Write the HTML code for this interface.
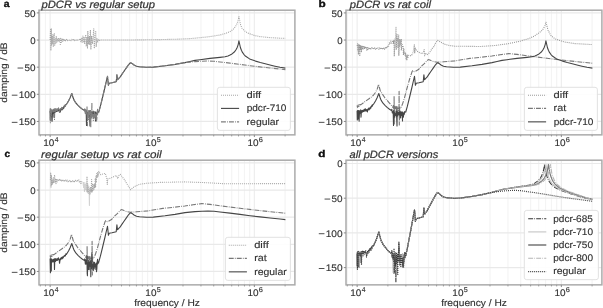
<!DOCTYPE html>
<html><head><meta charset="utf-8"><style>
html,body{margin:0;padding:0;background:#fff;width:603px;height:308px;overflow:hidden}

svg text{stroke:#333;stroke-width:0.14px}
svg{display:block;will-change:transform;text-rendering:geometricPrecision;font-family:"Liberation Sans",sans-serif}
</style></head><body>
<svg xmlns="http://www.w3.org/2000/svg" width="603" height="308" viewBox="0 0 603 308" font-family="Liberation Sans, sans-serif" fill="#333">
<rect width="603" height="308" fill="#fff"/>
<defs>
<clipPath id="cla"><rect x="39.0" y="10.2" width="255.9" height="124.65"/></clipPath>
<clipPath id="clb"><rect x="346.0" y="10.2" width="255.9" height="124.65"/></clipPath>
<clipPath id="clc"><rect x="39.0" y="160.2" width="255.9" height="124.65"/></clipPath>
<clipPath id="cld"><rect x="346.0" y="160.2" width="255.9" height="124.65"/></clipPath>
</defs>
<line x1="40.26" y1="10.2" x2="40.26" y2="134.85" stroke="#f4f4f4" stroke-width="1.2"/>
<line x1="45.48" y1="10.2" x2="45.48" y2="134.85" stroke="#f4f4f4" stroke-width="1.2"/>
<line x1="50.15" y1="10.2" x2="50.15" y2="134.85" stroke="#eeeeee" stroke-width="1.2"/>
<line x1="80.89" y1="10.2" x2="80.89" y2="134.85" stroke="#f4f4f4" stroke-width="1.2"/>
<line x1="98.86" y1="10.2" x2="98.86" y2="134.85" stroke="#f4f4f4" stroke-width="1.2"/>
<line x1="111.62" y1="10.2" x2="111.62" y2="134.85" stroke="#f4f4f4" stroke-width="1.2"/>
<line x1="121.51" y1="10.2" x2="121.51" y2="134.85" stroke="#f4f4f4" stroke-width="1.2"/>
<line x1="129.6" y1="10.2" x2="129.6" y2="134.85" stroke="#f4f4f4" stroke-width="1.2"/>
<line x1="136.43" y1="10.2" x2="136.43" y2="134.85" stroke="#f4f4f4" stroke-width="1.2"/>
<line x1="142.36" y1="10.2" x2="142.36" y2="134.85" stroke="#f4f4f4" stroke-width="1.2"/>
<line x1="147.58" y1="10.2" x2="147.58" y2="134.85" stroke="#f4f4f4" stroke-width="1.2"/>
<line x1="152.25" y1="10.2" x2="152.25" y2="134.85" stroke="#eeeeee" stroke-width="1.2"/>
<line x1="182.99" y1="10.2" x2="182.99" y2="134.85" stroke="#f4f4f4" stroke-width="1.2"/>
<line x1="200.96" y1="10.2" x2="200.96" y2="134.85" stroke="#f4f4f4" stroke-width="1.2"/>
<line x1="213.72" y1="10.2" x2="213.72" y2="134.85" stroke="#f4f4f4" stroke-width="1.2"/>
<line x1="223.61" y1="10.2" x2="223.61" y2="134.85" stroke="#f4f4f4" stroke-width="1.2"/>
<line x1="231.7" y1="10.2" x2="231.7" y2="134.85" stroke="#f4f4f4" stroke-width="1.2"/>
<line x1="238.53" y1="10.2" x2="238.53" y2="134.85" stroke="#f4f4f4" stroke-width="1.2"/>
<line x1="244.46" y1="10.2" x2="244.46" y2="134.85" stroke="#f4f4f4" stroke-width="1.2"/>
<line x1="249.68" y1="10.2" x2="249.68" y2="134.85" stroke="#f4f4f4" stroke-width="1.2"/>
<line x1="254.35" y1="10.2" x2="254.35" y2="134.85" stroke="#eeeeee" stroke-width="1.2"/>
<line x1="285.09" y1="10.2" x2="285.09" y2="134.85" stroke="#f4f4f4" stroke-width="1.2"/>
<line x1="39.0" y1="12.91" x2="294.9" y2="12.91" stroke="#e9e9e9" stroke-width="1.2"/>
<line x1="39.0" y1="40.04" x2="294.9" y2="40.04" stroke="#e9e9e9" stroke-width="1.2"/>
<line x1="39.0" y1="67.17" x2="294.9" y2="67.17" stroke="#e9e9e9" stroke-width="1.2"/>
<line x1="39.0" y1="94.31" x2="294.9" y2="94.31" stroke="#e9e9e9" stroke-width="1.2"/>
<line x1="39.0" y1="121.44" x2="294.9" y2="121.44" stroke="#e9e9e9" stroke-width="1.2"/>
<line x1="347.26" y1="10.2" x2="347.26" y2="134.85" stroke="#f4f4f4" stroke-width="1.2"/>
<line x1="352.48" y1="10.2" x2="352.48" y2="134.85" stroke="#f4f4f4" stroke-width="1.2"/>
<line x1="357.15" y1="10.2" x2="357.15" y2="134.85" stroke="#eeeeee" stroke-width="1.2"/>
<line x1="387.89" y1="10.2" x2="387.89" y2="134.85" stroke="#f4f4f4" stroke-width="1.2"/>
<line x1="405.86" y1="10.2" x2="405.86" y2="134.85" stroke="#f4f4f4" stroke-width="1.2"/>
<line x1="418.62" y1="10.2" x2="418.62" y2="134.85" stroke="#f4f4f4" stroke-width="1.2"/>
<line x1="428.51" y1="10.2" x2="428.51" y2="134.85" stroke="#f4f4f4" stroke-width="1.2"/>
<line x1="436.6" y1="10.2" x2="436.6" y2="134.85" stroke="#f4f4f4" stroke-width="1.2"/>
<line x1="443.43" y1="10.2" x2="443.43" y2="134.85" stroke="#f4f4f4" stroke-width="1.2"/>
<line x1="449.36" y1="10.2" x2="449.36" y2="134.85" stroke="#f4f4f4" stroke-width="1.2"/>
<line x1="454.58" y1="10.2" x2="454.58" y2="134.85" stroke="#f4f4f4" stroke-width="1.2"/>
<line x1="459.25" y1="10.2" x2="459.25" y2="134.85" stroke="#eeeeee" stroke-width="1.2"/>
<line x1="489.99" y1="10.2" x2="489.99" y2="134.85" stroke="#f4f4f4" stroke-width="1.2"/>
<line x1="507.96" y1="10.2" x2="507.96" y2="134.85" stroke="#f4f4f4" stroke-width="1.2"/>
<line x1="520.72" y1="10.2" x2="520.72" y2="134.85" stroke="#f4f4f4" stroke-width="1.2"/>
<line x1="530.61" y1="10.2" x2="530.61" y2="134.85" stroke="#f4f4f4" stroke-width="1.2"/>
<line x1="538.7" y1="10.2" x2="538.7" y2="134.85" stroke="#f4f4f4" stroke-width="1.2"/>
<line x1="545.53" y1="10.2" x2="545.53" y2="134.85" stroke="#f4f4f4" stroke-width="1.2"/>
<line x1="551.46" y1="10.2" x2="551.46" y2="134.85" stroke="#f4f4f4" stroke-width="1.2"/>
<line x1="556.68" y1="10.2" x2="556.68" y2="134.85" stroke="#f4f4f4" stroke-width="1.2"/>
<line x1="561.35" y1="10.2" x2="561.35" y2="134.85" stroke="#eeeeee" stroke-width="1.2"/>
<line x1="592.09" y1="10.2" x2="592.09" y2="134.85" stroke="#f4f4f4" stroke-width="1.2"/>
<line x1="346.0" y1="12.91" x2="601.9" y2="12.91" stroke="#e9e9e9" stroke-width="1.2"/>
<line x1="346.0" y1="40.04" x2="601.9" y2="40.04" stroke="#e9e9e9" stroke-width="1.2"/>
<line x1="346.0" y1="67.17" x2="601.9" y2="67.17" stroke="#e9e9e9" stroke-width="1.2"/>
<line x1="346.0" y1="94.31" x2="601.9" y2="94.31" stroke="#e9e9e9" stroke-width="1.2"/>
<line x1="346.0" y1="121.44" x2="601.9" y2="121.44" stroke="#e9e9e9" stroke-width="1.2"/>
<line x1="40.26" y1="160.2" x2="40.26" y2="284.85" stroke="#f4f4f4" stroke-width="1.2"/>
<line x1="45.48" y1="160.2" x2="45.48" y2="284.85" stroke="#f4f4f4" stroke-width="1.2"/>
<line x1="50.15" y1="160.2" x2="50.15" y2="284.85" stroke="#eeeeee" stroke-width="1.2"/>
<line x1="80.89" y1="160.2" x2="80.89" y2="284.85" stroke="#f4f4f4" stroke-width="1.2"/>
<line x1="98.86" y1="160.2" x2="98.86" y2="284.85" stroke="#f4f4f4" stroke-width="1.2"/>
<line x1="111.62" y1="160.2" x2="111.62" y2="284.85" stroke="#f4f4f4" stroke-width="1.2"/>
<line x1="121.51" y1="160.2" x2="121.51" y2="284.85" stroke="#f4f4f4" stroke-width="1.2"/>
<line x1="129.6" y1="160.2" x2="129.6" y2="284.85" stroke="#f4f4f4" stroke-width="1.2"/>
<line x1="136.43" y1="160.2" x2="136.43" y2="284.85" stroke="#f4f4f4" stroke-width="1.2"/>
<line x1="142.36" y1="160.2" x2="142.36" y2="284.85" stroke="#f4f4f4" stroke-width="1.2"/>
<line x1="147.58" y1="160.2" x2="147.58" y2="284.85" stroke="#f4f4f4" stroke-width="1.2"/>
<line x1="152.25" y1="160.2" x2="152.25" y2="284.85" stroke="#eeeeee" stroke-width="1.2"/>
<line x1="182.99" y1="160.2" x2="182.99" y2="284.85" stroke="#f4f4f4" stroke-width="1.2"/>
<line x1="200.96" y1="160.2" x2="200.96" y2="284.85" stroke="#f4f4f4" stroke-width="1.2"/>
<line x1="213.72" y1="160.2" x2="213.72" y2="284.85" stroke="#f4f4f4" stroke-width="1.2"/>
<line x1="223.61" y1="160.2" x2="223.61" y2="284.85" stroke="#f4f4f4" stroke-width="1.2"/>
<line x1="231.7" y1="160.2" x2="231.7" y2="284.85" stroke="#f4f4f4" stroke-width="1.2"/>
<line x1="238.53" y1="160.2" x2="238.53" y2="284.85" stroke="#f4f4f4" stroke-width="1.2"/>
<line x1="244.46" y1="160.2" x2="244.46" y2="284.85" stroke="#f4f4f4" stroke-width="1.2"/>
<line x1="249.68" y1="160.2" x2="249.68" y2="284.85" stroke="#f4f4f4" stroke-width="1.2"/>
<line x1="254.35" y1="160.2" x2="254.35" y2="284.85" stroke="#eeeeee" stroke-width="1.2"/>
<line x1="285.09" y1="160.2" x2="285.09" y2="284.85" stroke="#f4f4f4" stroke-width="1.2"/>
<line x1="39.0" y1="162.91" x2="294.9" y2="162.91" stroke="#e9e9e9" stroke-width="1.2"/>
<line x1="39.0" y1="190.04" x2="294.9" y2="190.04" stroke="#e9e9e9" stroke-width="1.2"/>
<line x1="39.0" y1="217.17" x2="294.9" y2="217.17" stroke="#e9e9e9" stroke-width="1.2"/>
<line x1="39.0" y1="244.31" x2="294.9" y2="244.31" stroke="#e9e9e9" stroke-width="1.2"/>
<line x1="39.0" y1="271.44" x2="294.9" y2="271.44" stroke="#e9e9e9" stroke-width="1.2"/>
<line x1="347.26" y1="160.2" x2="347.26" y2="284.85" stroke="#f4f4f4" stroke-width="1.2"/>
<line x1="352.48" y1="160.2" x2="352.48" y2="284.85" stroke="#f4f4f4" stroke-width="1.2"/>
<line x1="357.15" y1="160.2" x2="357.15" y2="284.85" stroke="#eeeeee" stroke-width="1.2"/>
<line x1="387.89" y1="160.2" x2="387.89" y2="284.85" stroke="#f4f4f4" stroke-width="1.2"/>
<line x1="405.86" y1="160.2" x2="405.86" y2="284.85" stroke="#f4f4f4" stroke-width="1.2"/>
<line x1="418.62" y1="160.2" x2="418.62" y2="284.85" stroke="#f4f4f4" stroke-width="1.2"/>
<line x1="428.51" y1="160.2" x2="428.51" y2="284.85" stroke="#f4f4f4" stroke-width="1.2"/>
<line x1="436.6" y1="160.2" x2="436.6" y2="284.85" stroke="#f4f4f4" stroke-width="1.2"/>
<line x1="443.43" y1="160.2" x2="443.43" y2="284.85" stroke="#f4f4f4" stroke-width="1.2"/>
<line x1="449.36" y1="160.2" x2="449.36" y2="284.85" stroke="#f4f4f4" stroke-width="1.2"/>
<line x1="454.58" y1="160.2" x2="454.58" y2="284.85" stroke="#f4f4f4" stroke-width="1.2"/>
<line x1="459.25" y1="160.2" x2="459.25" y2="284.85" stroke="#eeeeee" stroke-width="1.2"/>
<line x1="489.99" y1="160.2" x2="489.99" y2="284.85" stroke="#f4f4f4" stroke-width="1.2"/>
<line x1="507.96" y1="160.2" x2="507.96" y2="284.85" stroke="#f4f4f4" stroke-width="1.2"/>
<line x1="520.72" y1="160.2" x2="520.72" y2="284.85" stroke="#f4f4f4" stroke-width="1.2"/>
<line x1="530.61" y1="160.2" x2="530.61" y2="284.85" stroke="#f4f4f4" stroke-width="1.2"/>
<line x1="538.7" y1="160.2" x2="538.7" y2="284.85" stroke="#f4f4f4" stroke-width="1.2"/>
<line x1="545.53" y1="160.2" x2="545.53" y2="284.85" stroke="#f4f4f4" stroke-width="1.2"/>
<line x1="551.46" y1="160.2" x2="551.46" y2="284.85" stroke="#f4f4f4" stroke-width="1.2"/>
<line x1="556.68" y1="160.2" x2="556.68" y2="284.85" stroke="#f4f4f4" stroke-width="1.2"/>
<line x1="561.35" y1="160.2" x2="561.35" y2="284.85" stroke="#eeeeee" stroke-width="1.2"/>
<line x1="592.09" y1="160.2" x2="592.09" y2="284.85" stroke="#f4f4f4" stroke-width="1.2"/>
<line x1="346.0" y1="163.5" x2="601.9" y2="163.5" stroke="#e9e9e9" stroke-width="1.2"/>
<line x1="346.0" y1="198.2" x2="601.9" y2="198.2" stroke="#e9e9e9" stroke-width="1.2"/>
<line x1="346.0" y1="232.9" x2="601.9" y2="232.9" stroke="#e9e9e9" stroke-width="1.2"/>
<line x1="346.0" y1="267.6" x2="601.9" y2="267.6" stroke="#e9e9e9" stroke-width="1.2"/>
<g clip-path="url(#cla)">
<path d="M50.1 40 50.6 29.5 50.9 49.9 51.2 28.8 51.6 45 52.1 36 52.6 44 52.9 34.5 53.3 47 53.8 37 54.3 33.5 54.7 46 55.2 38 55.7 44 56.2 36.5 56.7 43 57.3 38.5 58 41.8 58.7 38.2 59.3 41.3 59.9 38.8 60.3 44.5 60.8 38.3 61.4 42.3 62 39 62.7 41.3 63.4 38.8 64.1 41 64.9 39.3 65.7 40.8 66.5 39.4 67.4 40.6 68.2 39.72 69.05 40.25 70.13 39.72 71.01 40.57 71.79 39.41 72.8 40.41 73.74 39.57 74.5 40.6 75.28 39.41 76.38 40.19 77.06 39.62 78.13 40.25 79.06 39.67 80.3 38.6 80.9 41.6 81.6 38.2 82.2 42.3 82.9 36 83.3 42.8 84 37.5 84.6 43.5 85.2 37 85.8 34.8 86.2 46 86.9 37 87.5 47.9 87.8 30.9 88.4 44 89.2 36 89.8 45 90.4 29.9 90.9 48.9 91.6 36 92.4 44 93.1 37 93.8 28.9 94.3 48.4 95 36 95.7 30.9 96.2 46.5 96.9 38 97.6 42.5 98.4 39 99.2 41 100.2 39.6 101.5 40 120 40 140 39.9 160 39.6 180 39.1 190 38.6 200 37.7 210 36.6 220 35 225 33.6 230 31.6 233 29.5 235 27.2 236.5 24.8 237.6 22 238.4 19 238.9 16.6 239.5 19.5 240.5 24.5 242 28.3 245.3 31.5 249 33.6 255 35.6 260 36.6 270 37.6 280 38.2 285.4 38.4" fill="none" stroke="#a2a2a2" stroke-width="1.1" stroke-dasharray="0.95 1.05" stroke-linejoin="round"/>
<path d="M50.1 110.84 50.3 120 50.57 114.22 50.6 110.5 51.01 110.74 51.1 119 51.48 113.01 51.5 110.8 51.94 110.54 52.1 121.1 52.48 112.78 52.5 111 52.87 111.28 53.41 113.38 53.72 109.9 54 117.3 54.31 112.91 54.4 111 54.8 110.7 55.1 112.41 55.42 110.5 55.79 111.56 56.23 109.99 56.78 111.58 57.27 109.48 57.77 111 58.16 108.63 58.76 111.05 59.27 109.45 59.64 111.01 59.96 109.85 60.38 111.94 60.79 109.03 61.35 109.83 61.71 108.12 62.15 109.84 62.57 108.01 63.06 108.82 63.44 107.16 63.84 108.09 64.37 106.16 64.74 106.5 65.06 104.99 65.41 106.07 65.85 104.57 66.5 104.3 68.5 101 70 98 71 95.5 71.8 93.5 72.6 96 73.5 98.8 74.2 100.4 76 103.2 78 105.3 80.1 107.4 82.5 109.3 84.5 110.5 84.8 109.33 85.32 113 85.89 111.69 86.25 114.12 86.5 125.5 86.6 110.61 86.8 111 86.91 115.84 87.26 111.98 87.69 117.31 88.17 113.8 88.54 115.35 89.13 110.77 89.69 117.59 90 126 90.23 110.54 90.3 112 90.78 115.9 91.36 111.92 91.9 114.73 92.32 112.28 92.75 115.12 93.06 111.15 93.62 117.97 94.14 111.7 94.68 115.44 95.19 112.14 95.5 121 95.52 115.78 95.8 112 95.98 112.86 96.42 117.08 96.83 113.13 97.28 114.35 97.63 111.64 98.03 112.14 98.75 112 100.4 106.2 102.5 97.5 104.9 87.5 106.6 80 107.5 76.3 107.9 80 108.4 85.2 109.2 83.2 112 82.7 116.2 81.7 116.9 74.8 117.5 79.8 118.3 78.8 120 77.2 121.5 74.9 124 71.3 126.2 68.1 128.5 64.8 130 63.2 130.8 62.7 132 63.4 134 65 136.5 66.2 139.5 66.8 146.4 67.3 153.3 67.1 165 65.8 175 64.4 185 62.6 190 61.5 195 60.4 200 59.7 210 58.4 220 57.4 225 56.8 228 56 230 55 232 53.9 234 52.3 235 51.2 236.3 49.2 237.3 47.2 238.1 44.8 238.6 42.6 238.9 40.8 239.4 43 240.4 47.5 241.4 50.3 242.5 52.4 243.8 54.3 245.7 56.3 249.6 58.9 255.5 61.1 260.3 62.5 265.2 63.8 270 65 275 66.2 280 67.3 285.4 68.1" fill="none" stroke="#454545" stroke-width="1.1"  stroke-linejoin="round"/>
<path d="M50.1 108.53 50.4 122.8 50.68 112.9 50.7 108.5 51.01 109.11 51.3 121 51.44 112.19 51.7 109 51.78 109.74 52.21 111.61 52.65 109.97 52.97 112.2 53.4 109.25 53.92 111.43 54.24 108.83 54.5 119.4 54.71 111.56 54.9 110 55.2 108.56 55.61 111.38 56.02 108.94 56.52 110.55 56.84 108.76 57.36 110.45 57.79 108.26 58.15 109.71 58.54 107.91 58.9 109.99 59.23 109.5 59.5 113.2 59.61 113.26 60.16 108.75 60.57 109.67 60.96 107.82 61.43 109 61.76 107.27 62.27 108.79 62.64 106.83 63.22 107.84 63.8 106.13 64.39 106.33 64.82 105.3 65.36 105.82 65.95 103.76 66.5 104.3 68.5 101 70 98 71 95.5 71.8 93.5 72.6 96 73.5 98.8 74.2 100.4 76 103.2 78 105.3 80.1 107.4 82.5 109.3 84.5 110.5 84.8 108.89 85.4 114.25 85.75 109.84 86.25 114.21 86.86 112.16 87 106.4 87.24 117.02 87.4 125.7 87.72 113.14 88.24 119.51 88.7 110.03 89.19 119.69 89.53 111.71 89.97 116.23 90.59 110.51 90.8 126.8 90.89 119.13 91.31 112.96 91.64 118.77 91.9 102.7 91.93 111.16 92.39 116.95 92.97 114.55 93.31 120.36 93.66 112.14 94.13 118.86 94.57 112.23 95.02 116.83 95.58 113.95 95.87 119.48 96.43 113.16 96.5 121.7 96.87 118.72 97.22 111.6 97.6 109.2 97.61 114.08 97.93 111.58 98.45 113.06 98.75 112 100.4 106.2 102.5 97.5 104.9 87.5 106.6 80 107.5 76.3 107.9 80 108.4 85.2 109.2 83.2 112 82.7 116.2 81.7 116.9 74.8 117.5 79.8 118.3 78.8 120 77.2 121.5 74.9 124 71.3 126.2 68.1 128.5 64.8 130 63.2 130.8 62.7 132 63.4 134 65 136.5 66.2 139.5 66.8 146.4 67.3 153.3 67.1 165 65.8 175 64.4 185 62.6 190 62.1 195 61.6 202 61.2 208 61 214 61.3 220 62 230 63.1 240 64.4 250 65.7 260 66.9 270 68 280 69 285.4 69.6" fill="none" stroke="#7e7e7e" stroke-width="1.1" stroke-dasharray="4.9 1.15 0.8 1.15" stroke-linejoin="round"/>
</g>
<g clip-path="url(#clb)">
<path d="M357.2 46 357.5 43.8 357.8 50.8 358.1 44.5 358.4 53.9 358.7 44.2 359.1 51 359.5 44.6 359.8 55.5 360.2 45.5 360.6 50 361 45.4 361.4 51.6 361.9 46 362.4 49.5 362.9 45.7 363.4 48.9 364 46.5 364.6 48.5 365.2 46.4 365.9 48.6 366.5 46.9 366.9 50.8 367.5 47.5 368 49.2 368.6 47.6 369.4 49.2 370.09 47.76 370.96 49.05 371.67 47.77 372.37 48.9 373.2 47.55 374.06 49.21 374.76 47.87 375.38 49.3 376.06 48 377.05 49.13 378.04 47.89 378.94 49.34 379.57 47.9 380.23 49.26 380.84 48.28 381.56 49.09 382.28 47.75 383.28 49.34 383.88 47.96 384.46 49.21 385.29 47.48 385.85 48.76 386.59 46.58 387.2 47.69 387.8 45.32 388.64 46.27 389.37 42.92 390.09 44.01 390.81 41.11 391.43 43.07 392.97 40.5 393.24 44 393.96 40.2 394.26 56.4 395.08 38 395.42 47 396.01 27.2 396.23 49.9 396.96 33.7 397.24 40.8 397.55 38 397.84 48 398.67 35 398.82 55.8 399.47 39 399.79 47 400.31 40 400.55 45 401.26 38.9 401.35 49.9 402.18 43.4 402.34 47.5 403.16 46.7 403.45 55.1 403.87 48.5 404.18 53.7 405.01 52.7 405.22 56.3 405.66 53.2 405.98 59.7 406.63 55.3 406.81 60.5 407.43 55 407.67 58 408.8 55.3 410 55.6 411.4 55.8 412.9 52.7 413.6 50 414.3 44.9 414.7 53.2 415.2 48 416.5 50.6 418 51.8 419.7 52.7 422.3 53.7 423.6 52 424.1 49.6 424.6 55.8 425.2 53 426.9 54.8 429.5 52.7 432.1 48.5 434 46.5 435.5 43 437.5 40.4 440.1 41.7 444 44 449.2 45.5 455 46.2 465 46.3 480.5 46.5 495 45.5 507.6 43.8 520 41.2 529.2 38.4 534 36.2 538 33.6 541.4 31 543.5 28.5 545 25.5 546 22.2 546.8 25.5 548 30 550.8 35.5 555 38.8 564.3 42 575 43.6 592.4 44.6" fill="none" stroke="#969696" stroke-width="1.1" stroke-dasharray="0.95 1.05" stroke-linejoin="round"/>
<path d="M357.1 105.31 357.5 107.38 358.27 104.93 358.88 106.56 359.41 104.91 361 104.6 365.4 101.3 369 98.8 373.2 95.5 375.5 92.5 377.2 89 378 86.5 378.6 84.4 379.3 87 380.2 90.5 382 93.5 385 98 388.8 102.3 391 105 393.1 107.6 393.3 105.59 393.77 109.69 394.1 105.61 394.1 96.2 394.3 124 394.55 109.69 394.92 106.47 395.32 109.29 395.91 106.35 396.6 110.19 396.99 106.23 397.5 109.26 398.01 108.31 398.46 110.58 399.03 105.89 399.1 91.4 399.3 125 399.58 109.16 400.07 107.65 400.8 108 402.5 104 404.3 98.6 406.8 89 409.5 79.5 412.1 71.5 412.8 70.6 414.1 71.6 415.3 71.4 418.5 69.6 421.4 66.2 424.3 63.6 427.5 60.2 428.5 59.6 431 60.6 434 61.6 437.3 62.2 443.8 61.8 454.8 60.9 464.4 59.3 469.8 58.4 480.3 57.3 491.8 56 500 54.8 508.8 53.6 517 54.4 527 55.8 534.4 56.7 547 58.3 561.4 60 577 61.7 592.4 63.2" fill="none" stroke="#777" stroke-width="1.1" stroke-dasharray="4.9 1.15 0.8 1.15" stroke-linejoin="round"/>
<path d="M357.1 110.84 357.3 120 357.57 114.22 357.6 110.5 358.01 110.74 358.1 119 358.48 113.01 358.5 110.8 358.94 110.54 359.1 121.1 359.48 112.78 359.5 111 359.87 111.28 360.41 113.38 360.72 109.9 361 117.3 361.31 112.91 361.4 111 361.8 110.7 362.1 112.41 362.42 110.5 362.79 111.56 363.23 109.99 363.78 111.58 364.27 109.48 364.77 111 365.16 108.63 365.76 111.05 366.27 109.45 366.64 111.01 366.96 109.85 367.38 111.94 367.79 109.03 368.35 109.83 368.71 108.12 369.15 109.84 369.57 108.01 370.06 108.82 370.44 107.16 370.84 108.09 371.37 106.16 371.74 106.5 372.06 104.99 372.41 106.07 372.85 104.57 373.5 104.3 375.5 101 377 98 378 95.5 378.8 93.5 379.6 96 380.5 98.8 381.2 100.4 383 103.2 385 105.3 387.1 107.4 389.5 109.3 391.5 110.5 391.8 109.33 392.32 113 392.89 111.69 393.25 114.12 393.5 125.5 393.6 110.61 393.8 111 393.91 115.84 394.26 111.98 394.69 117.31 395.17 113.8 395.54 115.35 396.13 110.77 396.69 117.59 397 126 397.23 110.54 397.3 112 397.78 115.9 398.36 111.92 398.9 114.73 399.32 112.28 399.75 115.12 400.06 111.15 400.62 117.97 401.14 111.7 401.68 115.44 402.19 112.14 402.5 121 402.52 115.78 402.8 112 402.98 112.86 403.42 117.08 403.83 113.13 404.28 114.35 404.63 111.64 405.03 112.14 405.75 112 407.4 106.2 409.5 97.5 411.9 87.5 413.6 80 414.5 76.3 414.9 80 415.4 85.2 416.2 83.2 419 82.7 423.2 81.7 423.9 74.8 424.5 79.8 425.3 78.8 427 77.2 428.5 74.9 431 71.3 433.2 68.1 435.5 64.8 437 63.2 437.8 62.7 439 63.4 441 65 443.5 66.2 446.5 66.8 453.4 67.3 460.3 67.1 472 65.8 482 64.4 492 62.6 497 61.5 502 60.4 507 59.7 517 58.4 527 57.4 532 56.8 535 56 537 55 539 53.9 541 52.3 542 51.2 543.3 49.2 544.3 47.2 545.1 44.8 545.6 42.6 545.9 40.8 546.4 43 547.4 47.5 548.4 50.3 549.5 52.4 550.8 54.3 552.7 56.3 556.6 58.9 562.5 61.1 567.3 62.5 572.2 63.8 577 65 582 66.2 587 67.3 592.4 68.1" fill="none" stroke="#454545" stroke-width="1.1"  stroke-linejoin="round"/>
</g>
<g clip-path="url(#clc)">
<path d="M50.4 180 50.7 173.1 51 187.1 51.3 175 51.7 184.7 52.1 179.7 52.6 184 53.1 178 53.6 183 54.1 177.5 54.6 175 55 182.8 55.5 178.5 56 183.6 56.6 178.9 57.2 182 57.8 179.25 58.6 180.86 59.54 178.95 60.49 181.1 61.12 179.75 61.75 180.91 62.57 179.61 63.45 181.47 64.14 179.88 64.83 180.96 65.64 180 66.25 181.63 66.97 179.66 67.92 181.64 68.57 180.34 69.21 181.8 69.97 180.4 70.53 181.68 71.23 180.68 71.88 181.77 72.6 180.46 73.38 182.1 74.04 180.62 74.71 181.68 75.49 180.28 76.17 181.57 77.02 180.03 77.82 180.8 78.71 179.76 79.34 181.98 80.17 180.95 80.92 183.48 81.57 181.77 83.1 182.5 83.6 188 84.1 182 84.5 192 85 184 85.5 190 86.1 183 86.7 191 87 176.4 87.3 192 87.8 184 88.3 193.3 88.8 186 89.2 191 89.4 205 89.7 188.7 90.1 194 90.6 187 91.1 192 91.6 179.6 92 192 92.5 183.5 92.9 190.7 93.4 185 93.9 189.4 94.3 184.2 94.8 188 95.2 178.3 95.6 186.8 96 176 96.4 181.6 96.8 172.5 97.2 178 97.6 171.8 98.1 176.4 98.8 171.5 100.8 174.7 103.4 173.8 105.3 173.4 106.6 178 107.3 184.5 107.7 179 109.2 178.6 112.5 177.3 116.4 175.4 117.2 177.5 117.8 178.6 118.5 176 120.3 174.4 124.2 179.3 127 184 130.6 189.7 134.5 186.5 139.7 184.3 146.4 183.3 160 182.4 184.8 181.9 206.7 182.7 225.9 183.8 250 183.7 285.4 183.6" fill="none" stroke="#a5a5a5" stroke-width="1.1" stroke-dasharray="0.95 1.05" stroke-linejoin="round"/>
<path d="M50.1 255.31 50.5 257.38 51.27 254.93 51.88 256.56 52.41 254.91 54 254.6 58.4 251.3 62 248.8 66.2 245.5 68.5 242.5 70.2 239 71 236.5 71.6 234.4 72.3 237 73.2 240.5 75 243.5 78 248 81.8 252.3 84 255 86.1 257.6 86.3 255.59 86.77 259.69 87.1 255.61 87.1 246.2 87.3 274 87.55 259.69 87.92 256.47 88.32 259.29 88.91 256.35 89.6 260.19 89.99 256.23 90.5 259.26 91.01 258.31 91.46 260.58 92.03 255.89 92.1 241.4 92.3 275 92.58 259.16 93.07 257.65 93.8 258 95.5 254 97.3 248.6 99.8 239 102.5 229.5 105.1 221.5 105.8 220.6 107.1 221.6 108.3 221.4 111.5 219.6 114.4 216.2 117.3 213.6 120.5 210.2 121.5 209.6 124 210.6 127 211.6 130.3 212.2 136.8 211.8 147.8 210.9 157.4 209.3 162.8 208.4 173.3 207.3 184.8 206 193 204.8 201.8 203.6 210 204.4 220 205.8 227.4 206.7 240 208.3 254.4 210 270 211.7 285.4 213.2" fill="none" stroke="#777" stroke-width="1.1" stroke-dasharray="4.9 1.15 0.8 1.15" stroke-linejoin="round"/>
<path d="M50.1 258.53 50.4 272.8 50.68 262.9 50.7 258.5 51.01 259.11 51.3 271 51.44 262.19 51.7 259 51.78 259.74 52.21 261.61 52.65 259.97 52.97 262.2 53.4 259.25 53.92 261.43 54.24 258.83 54.5 269.4 54.71 261.56 54.9 260 55.2 258.56 55.61 261.38 56.02 258.94 56.52 260.55 56.84 258.76 57.36 260.45 57.79 258.26 58.15 259.71 58.54 257.91 58.9 259.99 59.23 259.5 59.5 263.2 59.61 263.26 60.16 258.75 60.57 259.67 60.96 257.82 61.43 259 61.76 257.27 62.27 258.79 62.64 256.83 63.22 257.84 63.8 256.13 64.39 256.33 64.82 255.3 65.36 255.82 65.95 253.76 66.5 254.3 68.5 251 70 248 71 245.5 71.8 243.5 72.6 246 73.5 248.8 74.2 250.4 76 253.2 78 255.3 80.1 257.4 82.5 259.3 84.5 260.5 84.8 258.89 85.4 264.25 85.75 259.84 86.25 264.21 86.86 262.16 87 256.4 87.24 267.02 87.4 275.7 87.72 263.14 88.24 269.51 88.7 260.03 89.19 269.69 89.53 261.71 89.97 266.23 90.59 260.51 90.8 276.8 90.89 269.13 91.31 262.96 91.64 268.77 91.9 252.7 91.93 261.16 92.39 266.95 92.97 264.55 93.31 270.36 93.66 262.14 94.13 268.86 94.57 262.23 95.02 266.83 95.58 263.95 95.87 269.48 96.43 263.16 96.5 271.7 96.87 268.72 97.22 261.6 97.6 259.2 97.61 264.08 97.93 261.58 98.45 263.06 98.75 262 100.4 256.2 102.5 247.5 104.9 237.5 106.6 230 107.5 226.3 107.9 230 108.4 235.2 109.2 233.2 112 232.7 116.2 231.7 116.9 224.8 117.5 229.8 118.3 228.8 120 227.2 121.5 224.9 124 221.3 126.2 218.1 128.5 214.8 130 213.2 130.8 212.7 132 213.4 134 215 136.5 216.2 139.5 216.8 146.4 217.3 153.3 217.1 165 215.8 175 214.4 185 212.6 190 212.1 195 211.6 202 211.2 208 211 214 211.3 220 212 230 213.1 240 214.4 250 215.7 260 216.9 270 218 280 219 285.4 219.6" fill="none" stroke="#454545" stroke-width="1.1"  stroke-linejoin="round"/>
</g>
<g clip-path="url(#cld)">
<path d="M357.1 253.79 357.3 265.75 357.46 258.46 357.6 253.6 358.04 253.98 358.1 264.47 358.5 253.99 358.53 256.86 358.9 254.29 359.1 267.16 359.41 256.74 359.5 254.24 360 254.63 360.36 256.27 360.89 253.82 361 262.3 361.33 256.16 361.4 254.24 361.82 253.48 362.18 255.85 362.58 253.67 363.12 255.65 363.62 252.16 364.04 254.63 364.47 252.31 364.97 253.56 365.41 251.63 365.81 253.39 366.32 252.64 366.79 254.39 367.1 253.67 367.42 254.61 367.93 251.68 368.34 253.42 368.78 250.89 369.34 251.88 369.9 249.46 370.41 250.25 370.73 248.99 371.14 250.08 371.7 246.99 372.03 248.59 372.57 245.88 373.5 245.68 375.5 241.46 377 237.62 378 234.42 378.8 231.86 379.6 235.06 380.5 238.64 381.2 240.69 383 244.27 385 246.95 387.1 249.64 389.5 252.07 391.5 253.6 391.8 251.07 392.23 256.5 392.77 254.68 393.07 259.71 393.38 254.79 393.5 272.79 393.8 254.24 393.97 261.53 394.28 256.68 394.63 262.22 394.91 256.13 395.22 259.67 395.68 256.46 395.9 281.74 396.1 262.36 396.2 256.8 396.63 255.43 397 273.42 397.18 261.82 397.3 255.52 397.75 256.29 398.15 261.39 398.76 255.29 398.9 242.09 399.2 256.8 399.2 258.42 399.57 256.33 400.2 262.13 400.79 255.17 401.32 260.75 401.76 257.04 402.18 260.59 402.49 254.19 402.5 267.03 402.79 262.66 402.8 255.52 403.31 257.59 403.76 262.28 404.38 254.54 404.93 257.65 405.31 252.74 405.75 255.52 407.4 248.1 409.5 236.98 411.9 224.19 413.6 214.6 414.5 209.87 414.9 214.6 415.4 221.25 416.2 218.69 419 218.05 423.2 216.77 423.9 207.95 424.5 214.34 425.3 213.07 427 211.02 428.5 208.08 431 203.47 433.2 199.38 435.5 195.16 437 193.12 437.8 192.48 439 193.37 441 195.42 443.5 196.95 446.5 197.72 453.4 198.36 460.3 198.1 472 196.44 482 194.65 492 192.35 497 190.94 502 189.54 502.3 189.48 502.6 189.42 502.9 189.37 503.2 189.31 503.5 189.25 503.8 189.2 504.1 189.14 504.4 189.08 504.7 189.03 505 188.97 505.3 188.91 505.6 188.86 505.9 188.8 506.2 188.74 506.5 188.69 506.8 188.63 507.1 188.58 507.4 188.52 507.7 188.47 508 188.42 508.3 188.37 508.6 188.31 508.9 188.26 509.2 188.21 509.5 188.16 509.8 188.1 510.1 188.05 510.4 188 510.7 187.94 511 187.89 511.3 187.84 511.6 187.79 511.9 187.73 512.2 187.68 512.5 187.63 512.8 187.58 513.1 187.52 513.4 187.47 513.7 187.42 514 187.37 514.3 187.31 514.6 187.26 514.9 187.21 515.2 187.15 515.5 187.1 515.8 187.05 516.1 187 516.4 186.95 516.7 186.91 517 186.87 517.3 186.83 517.6 186.79 517.9 186.75 518.2 186.71 518.5 186.67 518.8 186.63 519.1 186.59 519.4 186.55 519.7 186.51 520 186.47 520.3 186.43 520.6 186.39 520.9 186.34 521.2 186.3 521.5 186.26 521.8 186.22 522.1 186.18 522.4 186.14 522.7 186.1 523 186.06 523.3 186.02 523.6 185.98 523.9 185.94 524.2 185.9 524.5 185.86 524.8 185.82 525.1 185.78 525.4 185.74 525.7 185.7 526 185.65 526.3 185.6 526.6 185.55 526.9 185.5 527.2 185.45 527.5 185.41 527.8 185.36 528.1 185.32 528.4 185.27 528.7 185.22 529 185.18 529.3 185.13 529.6 185.09 529.9 185.04 530.2 184.99 530.5 184.95 530.8 184.86 531.1 184.76 531.4 184.66 531.7 184.56 532 184.46 532.3 184.35 532.6 184.25 532.9 184.15 533.2 184.05 533.5 183.94 533.8 183.78 534.1 183.59 534.4 183.4 534.7 183.21 535 183.01 535.3 182.82 535.6 182.63 535.9 182.42 536.2 182.21 536.5 182 536.8 181.79 537.1 181.58 537.4 181.36 537.7 181.12 538 180.81 538.3 180.51 538.6 180.2 538.9 179.89 539.2 179.59 539.5 179.28 539.8 178.9 540.1 178.47 540.4 178.05 540.7 177.57 541 176.98 541.3 176.39 541.6 175.8 541.9 175.21 542.2 174.45 542.5 173.68 542.8 172.91 543.1 171.89 543.4 170.74 543.7 169.59 544 167.9 544.1 167.34 544.3 166.01 544.5 164.47 544.6 165.03 544.9 166.72 545.2 168.44 545.5 170.16 545.8 171.89 546.1 173.4 546.4 174.47 546.7 175.55 547 176.62 547.3 177.35 547.6 178.09 547.9 178.82 548.2 179.49 548.5 180.05 548.8 180.61 549.1 181.17 549.4 181.74 549.7 182.14 550 182.54 550.3 182.95 550.6 183.35 550.9 183.75 551.2 184.16 551.5 184.46 551.8 184.72 552.1 184.98 552.4 185.23 552.7 185.49 553 185.74 553.3 186 553.6 186.25 553.9 186.51 554.2 186.77 554.5 187.02 554.8 187.28 555.1 187.53 555.4 187.71 555.7 187.86 556 188 556.3 188.14 556.6 188.29 556.9 188.43 557.2 188.57 557.5 188.71 557.8 188.86 558.1 189 558.4 189.14 558.7 189.29 559 189.43 559.3 189.57 559.6 189.72 559.9 189.86 560.2 190 560.5 190.15 560.8 190.29 561.1 190.43 561.4 190.54 561.7 190.66 562 190.77 562.3 190.88 562.6 190.98 562.9 191.09 563.2 191.2 563.5 191.31 563.8 191.42 564.1 191.53 564.4 191.64 564.7 191.75 565 191.85 565.3 191.96 565.6 192.07 565.9 192.18 566.2 192.28 566.5 192.38 566.8 192.48 567.1 192.58 567.4 192.68 567.7 192.78 568 192.88 568.3 192.98 568.6 193.07 568.9 193.17 569.2 193.27 569.5 193.37 569.8 193.47 570.1 193.57 570.4 193.67 570.7 193.77 571 193.87 571.3 193.96 571.6 194.05 571.9 194.15 572.2 194.24 572.5 194.33 572.8 194.43 573.1 194.52 573.4 194.61 573.7 194.71 574 194.8 574.3 194.89 574.6 194.99 574.9 195.08 575.2 195.17 575.5 195.27 575.8 195.36 576.1 195.45 576.4 195.54 576.7 195.63 577 195.72 577.3 195.81 577.6 195.9 577.9 195.99 578.2 196.08 578.5 196.17 578.8 196.26 579.1 196.35 579.4 196.44 579.7 196.52 580 196.61 580.3 196.7 580.6 196.79 580.9 196.88 581.2 196.97 581.5 197.05 581.8 197.13 582.1 197.22 582.4 197.3 582.7 197.38 583 197.46 583.3 197.54 583.6 197.63 583.9 197.71 584.2 197.79 584.5 197.87 584.8 197.96 585.1 198.04 585.4 198.12 585.7 198.2 586 198.28 586.3 198.36 586.6 198.42 586.9 198.47 587.2 198.53 587.5 198.58 587.8 198.64 588.1 198.69 588.4 198.75 588.7 198.81 589 198.86 589.3 198.92 589.6 198.97 589.9 199.03 590.2 199.08 590.5 199.14 590.8 199.19 591.1 199.25 591.4 199.3 591.7 199.36 592 199.38 592.3 199.38" fill="none" stroke="#333" stroke-width="1.1" stroke-dasharray="4.9 1.15 0.8 1.15" stroke-linejoin="round"/>
<path d="M357.1 253.79 357.3 265.75 357.46 258.46 357.6 253.6 358.04 253.98 358.1 264.47 358.5 253.99 358.53 256.86 358.9 254.29 359.1 267.16 359.41 256.74 359.5 254.24 360 254.63 360.36 256.27 360.89 253.82 361 262.3 361.33 256.16 361.4 254.24 361.82 253.48 362.18 255.85 362.58 253.67 363.12 255.65 363.62 252.16 364.04 254.63 364.47 252.31 364.97 253.56 365.41 251.63 365.81 253.39 366.32 252.64 366.79 254.39 367.1 253.67 367.42 254.61 367.93 251.68 368.34 253.42 368.78 250.89 369.34 251.88 369.9 249.46 370.41 250.25 370.73 248.99 371.14 250.08 371.7 246.99 372.03 248.59 372.57 245.88 373.5 245.68 375.5 241.46 377 237.62 378 234.42 378.8 231.86 379.6 235.06 380.5 238.64 381.2 240.69 383 244.27 385 246.95 387.1 249.64 389.5 252.07 391.5 253.6 391.8 251.07 392.23 256.5 392.77 254.68 393.07 259.71 393.38 254.79 393.5 272.79 393.8 254.24 393.97 261.53 394.28 256.68 394.63 262.22 394.91 256.13 395.22 259.67 395.68 256.46 396.1 262.36 396.63 255.43 397 273.42 397.18 261.82 397.3 255.52 397.75 256.29 398.15 261.39 398.76 255.29 399.2 258.42 399.57 256.33 400.2 262.13 400.79 255.17 401.32 260.75 401.76 257.04 402.18 260.59 402.49 254.19 402.5 267.03 402.79 262.66 402.8 255.52 403.31 257.59 403.76 262.28 404.38 254.54 404.93 257.65 405.31 252.74 405.75 255.52 407.4 248.1 409.5 236.98 411.9 224.19 413.6 214.6 414.5 209.87 414.9 214.6 415.4 221.25 416.2 218.69 419 218.05 423.2 216.77 423.9 207.95 424.5 214.34 425.3 213.07 427 211.02 428.5 208.08 431 203.47 433.2 199.38 435.5 195.16 437 193.12 437.8 192.48 439 193.37 441 195.42 443.5 196.95 446.5 197.72 453.4 198.36 460.3 198.1 472 196.44 482 194.65 492 192.35 497 190.94 502 189.54 507 188.64 517 186.98 527 185.7 532 184.93 535 183.91 537 182.63 539 181.22 541 179.18 542 177.77 543.3 175.21 544.3 172.66 545.1 169.59 545.6 166.77 545.9 164.47 546.4 167.29 547.4 173.04 548.4 176.62 549.5 179.31 550.8 181.74 552.7 184.29 556.6 187.62 562.5 190.43 567.3 192.22 572.2 193.88 577 195.42 582 196.95 587 198.36 592.4 199.38" fill="none" stroke="#c4c4c4" stroke-width="1.1"  stroke-linejoin="round"/>
<path d="M357.1 253.79 357.3 265.75 357.46 258.46 357.6 253.6 358.04 253.98 358.1 264.47 358.5 253.99 358.53 256.86 358.9 254.29 359.1 267.16 359.41 256.74 359.5 254.24 360 254.63 360.36 256.27 360.89 253.82 361 262.3 361.33 256.16 361.4 254.24 361.82 253.48 362.18 255.85 362.58 253.67 363.12 255.65 363.62 252.16 364.04 254.63 364.47 252.31 364.97 253.56 365.41 251.63 365.81 253.39 366.32 252.64 366.79 254.39 367.1 253.67 367.42 254.61 367.93 251.68 368.34 253.42 368.78 250.89 369.34 251.88 369.9 249.46 370.41 250.25 370.73 248.99 371.14 250.08 371.7 246.99 372.03 248.59 372.57 245.88 373.5 245.68 375.5 241.46 377 237.62 378 234.42 378.8 231.86 379.6 235.06 380.5 238.64 381.2 240.69 383 244.27 385 246.95 387.1 249.64 389.5 252.07 391.5 253.6 391.8 251.07 392.23 256.5 392.77 254.68 393.07 259.71 393.38 254.79 393.5 272.79 393.8 254.24 393.97 261.53 394.28 256.68 394.63 262.22 394.91 256.13 395.22 259.67 395.68 256.46 396.1 262.36 396.63 255.43 397 273.42 397.18 261.82 397.3 255.52 397.75 256.29 398.15 261.39 398.76 255.29 399.2 258.42 399.57 256.33 400.2 262.13 400.79 255.17 401.32 260.75 401.76 257.04 402.18 260.59 402.49 254.19 402.5 267.03 402.79 262.66 402.8 255.52 403.31 257.59 403.76 262.28 404.38 254.54 404.93 257.65 405.31 252.74 405.75 255.52 407.4 248.1 409.5 236.98 411.9 224.19 413.6 214.6 414.5 209.87 414.9 214.6 415.4 221.25 416.2 218.69 419 218.05 423.2 216.77 423.9 207.95 424.5 214.34 425.3 213.07 427 211.02 428.5 208.08 431 203.47 433.2 199.38 435.5 195.16 437 193.12 437.8 192.48 439 193.37 441 195.42 443.5 196.95 446.5 197.72 453.4 198.36 460.3 198.1 472 196.44 482 194.65 492 192.35 497 190.94 502 189.54 502.3 189.49 502.6 189.44 502.9 189.39 503.2 189.34 503.5 189.29 503.8 189.25 504.1 189.2 504.4 189.15 504.7 189.1 505 189.05 505.3 189 505.6 188.96 505.9 188.91 506.2 188.86 506.5 188.81 506.8 188.76 507.1 188.71 507.4 188.67 507.7 188.62 508 188.57 508.3 188.53 508.6 188.48 508.9 188.44 509.2 188.39 509.5 188.35 509.8 188.31 510.1 188.26 510.4 188.22 510.7 188.17 511 188.13 511.3 188.08 511.6 188.04 511.9 187.99 512.2 187.95 512.5 187.9 512.8 187.86 513.1 187.81 513.4 187.77 513.7 187.72 514 187.68 514.3 187.63 514.6 187.59 514.9 187.54 515.2 187.5 515.5 187.45 515.8 187.41 516.1 187.36 516.4 187.32 516.7 187.27 517 187.23 517.3 187.18 517.6 187.14 517.9 187.09 518.2 187.05 518.5 187 518.8 186.96 519.1 186.93 519.4 186.89 519.7 186.86 520 186.83 520.3 186.79 520.6 186.76 520.9 186.72 521.2 186.69 521.5 186.65 521.8 186.62 522.1 186.58 522.4 186.55 522.7 186.51 523 186.48 523.3 186.45 523.6 186.41 523.9 186.38 524.2 186.34 524.5 186.31 524.8 186.27 525.1 186.24 525.4 186.2 525.7 186.17 526 186.13 526.3 186.1 526.6 186.07 526.9 186.03 527.2 185.99 527.5 185.96 527.8 185.92 528.1 185.88 528.4 185.84 528.7 185.8 529 185.76 529.3 185.73 529.6 185.68 529.9 185.64 530.2 185.59 530.5 185.55 530.8 185.5 531.1 185.45 531.4 185.41 531.7 185.36 532 185.32 532.3 185.27 532.6 185.22 532.9 185.18 533.2 185.13 533.5 185.09 533.8 185.04 534.1 184.99 534.4 184.95 534.7 184.86 535 184.76 535.3 184.66 535.6 184.56 535.9 184.46 536.2 184.35 536.5 184.25 536.8 184.15 537.1 184.05 537.4 183.94 537.7 183.78 538 183.59 538.3 183.4 538.6 183.21 538.9 183.01 539.2 182.82 539.5 182.63 539.8 182.42 540.1 182.21 540.4 182 540.7 181.79 541 181.58 541.3 181.36 541.6 181.12 541.9 180.81 542.2 180.51 542.5 180.2 542.8 179.89 543.1 179.59 543.4 179.28 543.7 178.9 544 178.47 544.3 178.05 544.6 177.57 544.9 176.98 545.2 176.39 545.5 175.8 545.8 175.21 546.1 174.45 546.4 173.68 546.7 172.91 547 171.89 547.3 170.74 547.6 169.59 547.9 167.9 548 167.34 548.2 166.01 548.4 164.47 548.5 165.03 548.8 166.72 549.1 168.44 549.4 170.16 549.7 171.89 550 173.4 550.3 174.47 550.6 175.55 550.9 176.62 551.2 177.35 551.5 178.09 551.8 178.82 552.1 179.49 552.4 180.05 552.7 180.61 553 181.17 553.3 181.74 553.6 182.14 553.9 182.54 554.2 182.95 554.5 183.35 554.8 183.75 555.1 184.16 555.4 184.46 555.7 184.72 556 184.98 556.3 185.23 556.6 185.49 556.9 185.74 557.2 186 557.5 186.25 557.8 186.51 558.1 186.77 558.4 187.02 558.7 187.28 559 187.53 559.3 187.71 559.6 187.86 559.9 188 560.2 188.14 560.5 188.29 560.8 188.43 561.1 188.57 561.4 188.71 561.7 188.86 562 189 562.3 189.15 562.6 189.3 562.9 189.45 563.2 189.6 563.5 189.75 563.8 189.9 564.1 190.05 564.4 190.2 564.7 190.35 565 190.49 565.3 190.6 565.6 190.72 565.9 190.84 566.2 190.96 566.5 191.07 566.8 191.19 567.1 191.31 567.4 191.43 567.7 191.54 568 191.66 568.3 191.78 568.6 191.9 568.9 192.01 569.2 192.13 569.5 192.25 569.8 192.35 570.1 192.46 570.4 192.57 570.7 192.67 571 192.78 571.3 192.89 571.6 193 571.9 193.1 572.2 193.21 572.5 193.32 572.8 193.42 573.1 193.53 573.4 193.64 573.7 193.74 574 193.85 574.3 193.95 574.6 194.05 574.9 194.15 575.2 194.25 575.5 194.36 575.8 194.46 576.1 194.56 576.4 194.66 576.7 194.76 577 194.86 577.3 194.96 577.6 195.06 577.9 195.16 578.2 195.26 578.5 195.36 578.8 195.46 579.1 195.56 579.4 195.65 579.7 195.75 580 195.85 580.3 195.94 580.6 196.04 580.9 196.14 581.2 196.23 581.5 196.33 581.8 196.43 582.1 196.53 582.4 196.62 582.7 196.72 583 196.82 583.3 196.91 583.6 197 583.9 197.09 584.2 197.18 584.5 197.27 584.8 197.36 585.1 197.45 585.4 197.54 585.7 197.62 586 197.71 586.3 197.8 586.6 197.89 586.9 197.98 587.2 198.07 587.5 198.16 587.8 198.24 588.1 198.33 588.4 198.4 588.7 198.46 589 198.52 589.3 198.58 589.6 198.64 589.9 198.7 590.2 198.76 590.5 198.82 590.8 198.88 591.1 198.94 591.4 199 591.7 199.06 592 199.12 592.3 199.17" fill="none" stroke="#7a7a7a" stroke-width="1.2"  stroke-linejoin="round"/>
<path d="M357.1 253.79 357.3 265.75 357.46 258.46 357.6 253.6 358.04 253.98 358.1 264.47 358.5 253.99 358.53 256.86 358.9 254.29 359.1 267.16 359.41 256.74 359.5 254.24 360 254.63 360.36 256.27 360.89 253.82 361 262.3 361.33 256.16 361.4 254.24 361.82 253.48 362.18 255.85 362.58 253.67 363.12 255.65 363.62 252.16 364.04 254.63 364.47 252.31 364.97 253.56 365.41 251.63 365.81 253.39 366.32 252.64 366.79 254.39 367.1 253.67 367.42 254.61 367.93 251.68 368.34 253.42 368.78 250.89 369.34 251.88 369.9 249.46 370.41 250.25 370.73 248.99 371.14 250.08 371.7 246.99 372.03 248.59 372.57 245.88 373.5 245.68 375.5 241.46 377 237.62 378 234.42 378.8 231.86 379.6 235.06 380.5 238.64 381.2 240.69 383 244.27 385 246.95 387.1 249.64 389.5 252.07 391.5 253.6 391.8 251.07 392.23 256.5 392.77 254.68 393.07 259.71 393.38 254.79 393.5 272.79 393.8 254.24 393.97 261.53 394.28 256.68 394.63 262.22 394.91 256.13 395.22 259.67 395.68 256.46 396.1 262.36 396.63 255.43 397 273.42 397.18 261.82 397.3 255.52 397.75 256.29 398.15 261.39 398.76 255.29 399.2 258.42 399.57 256.33 400.2 262.13 400.79 255.17 401.32 260.75 401.76 257.04 402.18 260.59 402.49 254.19 402.5 267.03 402.79 262.66 402.8 255.52 403.31 257.59 403.76 262.28 404.38 254.54 404.93 257.65 405.31 252.74 405.75 255.52 407.4 248.1 409.5 236.98 411.9 224.19 413.6 214.6 414.5 209.87 414.9 214.6 415.4 221.25 416.2 218.69 419 218.05 423.2 216.77 423.9 207.95 424.5 214.34 425.3 213.07 427 211.02 428.5 208.08 431 203.47 433.2 199.38 435.5 195.16 437 193.12 437.8 192.48 439 193.37 441 195.42 443.5 196.95 446.5 197.72 453.4 198.36 460.3 198.1 472 196.44 482 194.65 492 192.35 497 190.94 502 189.54 502.3 189.49 502.6 189.45 502.9 189.4 503.2 189.36 503.5 189.31 503.8 189.27 504.1 189.23 504.4 189.18 504.7 189.14 505 189.09 505.3 189.05 505.6 189.01 505.9 188.96 506.2 188.92 506.5 188.87 506.8 188.83 507.1 188.78 507.4 188.74 507.7 188.7 508 188.65 508.3 188.61 508.6 188.57 508.9 188.53 509.2 188.49 509.5 188.44 509.8 188.4 510.1 188.36 510.4 188.32 510.7 188.28 511 188.24 511.3 188.2 511.6 188.16 511.9 188.12 512.2 188.07 512.5 188.03 512.8 187.99 513.1 187.95 513.4 187.91 513.7 187.87 514 187.83 514.3 187.79 514.6 187.75 514.9 187.71 515.2 187.66 515.5 187.62 515.8 187.58 516.1 187.54 516.4 187.5 516.7 187.46 517 187.42 517.3 187.38 517.6 187.34 517.9 187.29 518.2 187.25 518.5 187.21 518.8 187.17 519.1 187.13 519.4 187.09 519.7 187.05 520 187.01 520.3 186.97 520.6 186.94 520.9 186.91 521.2 186.87 521.5 186.84 521.8 186.81 522.1 186.78 522.4 186.75 522.7 186.72 523 186.68 523.3 186.65 523.6 186.62 523.9 186.59 524.2 186.56 524.5 186.53 524.8 186.49 525.1 186.46 525.4 186.43 525.7 186.4 526 186.37 526.3 186.34 526.6 186.3 526.9 186.27 527.2 186.24 527.5 186.2 527.8 186.16 528.1 186.12 528.4 186.08 528.7 186.05 529 186.01 529.3 185.97 529.6 185.93 529.9 185.89 530.2 185.85 530.5 185.81 530.8 185.78 531.1 185.74 531.4 185.7 531.7 185.65 532 185.61 532.3 185.56 532.6 185.52 532.9 185.47 533.2 185.42 533.5 185.38 533.8 185.33 534.1 185.29 534.4 185.24 534.7 185.19 535 185.15 535.3 185.1 535.6 185.06 535.9 185.01 536.2 184.96 536.5 184.9 536.8 184.8 537.1 184.69 537.4 184.59 537.7 184.49 538 184.39 538.3 184.28 538.6 184.18 538.9 184.08 539.2 183.98 539.5 183.85 539.8 183.65 540.1 183.46 540.4 183.27 540.7 183.08 541 182.89 541.3 182.69 541.6 182.49 541.9 182.28 542.2 182.07 542.5 181.86 542.8 181.65 543.1 181.44 543.4 181.22 543.7 180.92 544 180.61 544.3 180.3 544.6 180 544.9 179.69 545.2 179.38 545.5 179.04 545.8 178.62 546.1 178.19 546.4 177.77 546.7 177.18 547 176.59 547.3 176 547.6 175.41 547.9 174.7 548.2 173.93 548.5 173.17 548.8 172.27 549.1 171.12 549.4 169.97 549.7 168.46 549.9 167.34 550 166.77 550.3 164.47 550.6 166.16 550.7 166.72 550.9 167.86 551.2 169.59 551.5 171.31 551.8 173.04 552.1 174.11 552.4 175.19 552.7 176.26 553 177.11 553.3 177.84 553.6 178.57 553.9 179.31 554.2 179.87 554.5 180.43 554.8 180.99 555.1 181.55 555.4 182 555.7 182.41 556 182.81 556.3 183.22 556.6 183.62 556.9 184.02 557.2 184.38 557.5 184.63 557.8 184.89 558.1 185.15 558.4 185.4 558.7 185.66 559 185.91 559.3 186.17 559.6 186.42 559.9 186.68 560.2 186.94 560.5 187.19 560.8 187.45 561.1 187.67 561.4 187.81 561.7 187.95 562 188.09 562.3 188.25 562.6 188.41 562.9 188.56 563.2 188.72 563.5 188.87 563.8 189.03 564.1 189.18 564.4 189.34 564.7 189.5 565 189.65 565.3 189.81 565.6 189.96 565.9 190.12 566.2 190.27 566.5 190.43 566.8 190.55 567.1 190.67 567.4 190.8 567.7 190.92 568 191.04 568.3 191.16 568.6 191.28 568.9 191.4 569.2 191.53 569.5 191.65 569.8 191.77 570.1 191.89 570.4 192.01 570.7 192.13 571 192.25 571.3 192.36 571.6 192.47 571.9 192.59 572.2 192.7 572.5 192.81 572.8 192.92 573.1 193.03 573.4 193.14 573.7 193.25 574 193.36 574.3 193.47 574.6 193.58 574.9 193.69 575.2 193.8 575.5 193.91 575.8 194.02 576.1 194.12 576.4 194.23 576.7 194.33 577 194.43 577.3 194.54 577.6 194.64 577.9 194.75 578.2 194.85 578.5 194.96 578.8 195.06 579.1 195.16 579.4 195.27 579.7 195.37 580 195.48 580.3 195.58 580.6 195.68 580.9 195.78 581.2 195.88 581.5 195.98 581.8 196.08 582.1 196.18 582.4 196.28 582.7 196.38 583 196.48 583.3 196.58 583.6 196.68 583.9 196.78 584.2 196.88 584.5 196.98 584.8 197.07 585.1 197.16 585.4 197.25 585.7 197.34 586 197.43 586.3 197.53 586.6 197.62 586.9 197.71 587.2 197.8 587.5 197.89 587.8 197.99 588.1 198.08 588.4 198.17 588.7 198.26 589 198.35 589.3 198.42 589.6 198.48 589.9 198.54 590.2 198.6 590.5 198.66 590.8 198.73 591.1 198.79 591.4 198.85 591.7 198.91 592 198.97 592.3 199.03" fill="none" stroke="#b5b5b5" stroke-width="1.1" stroke-dasharray="4.9 1.15 0.8 1.15" stroke-linejoin="round"/>
<path d="M357.1 252.47 357.4 269.33 357.54 255.99 357.7 251.05 357.87 252.01 358.3 267.03 358.46 255.83 358.7 251.69 358.91 251.48 359.35 255.11 359.9 252.67 360.46 255.87 360.93 251.93 361.25 254.38 361.5 264.98 361.78 251.51 361.9 252.96 362.27 253.97 362.78 251.07 363.35 254.23 363.78 251.47 364.13 252.98 364.72 251.07 365.13 252.97 365.73 250.49 366.23 254.22 366.5 257.06 366.69 254.09 367.23 253.27 367.55 250.87 368.02 252.5 368.6 249.61 369.03 251.32 369.56 248.79 369.97 250.32 370.45 248.12 370.95 249.53 371.38 246.98 371.74 248.51 372.25 245.96 372.65 246.77 373.5 245.68 375.5 241.46 377 237.62 378 234.42 378.8 231.86 379.6 235.06 380.5 238.64 381.2 240.69 383 244.27 385 246.95 387.1 249.64 389.5 252.07 391.5 253.6 391.8 250.68 392.15 257.26 392.59 253.73 393.09 259.09 393.43 254.83 393.78 262.27 394 248.36 394.2 255.12 394.4 273.04 394.57 261.21 395.1 252.7 395.49 265.07 395.88 253.1 396.23 264.1 396.65 252.37 397.19 261.03 397.5 254.58 397.8 274.45 397.85 262.42 398.46 252.42 398.73 260.34 398.9 243.63 399.23 252.63 399.82 265.6 400.36 255.28 400.8 266.41 401.11 254.51 401.64 262.52 402.19 258.45 402.81 266.76 403.24 257.03 403.5 267.93 403.86 263.61 404.2 254.77 404.6 251.94 404.8 257.93 405.34 252.3 405.75 255.52 407.4 248.1 409.5 236.98 411.9 224.19 413.6 214.6 414.5 209.87 414.9 214.6 415.4 221.25 416.2 218.69 419 218.05 423.2 216.77 423.9 207.95 424.5 214.34 425.3 213.07 427 211.02 428.5 208.08 431 203.47 433.2 199.38 435.5 195.16 437 193.12 437.8 192.48 439 193.37 441 195.42 443.5 196.95 446.5 197.72 453.4 198.36 460.3 198.1 472 196.44 482 194.65 492 192.35 497 191.71 502 191.07 509 190.56 515 190.3 521 190.69 527 191.58 537 192.99 547 194.65 557 196.31 567 197.85 577 199.25 587 200.53 592.4 201.3" fill="none" stroke="#3a3a3a" stroke-width="1.15" stroke-dasharray="0.95 1.05" stroke-linejoin="round"/>
</g>
<rect x="39.0" y="10.2" width="255.9" height="124.65" fill="none" stroke="#ababab" stroke-width="1.5"/>
<line x1="36.8" y1="12.91" x2="39.0" y2="12.91" stroke="#8a8a8a" stroke-width="1"/>
<text x="24.47" y="16.59" font-size="9.55" textLength="11.04" lengthAdjust="spacingAndGlyphs">50</text>
<line x1="36.8" y1="40.04" x2="39.0" y2="40.04" stroke="#8a8a8a" stroke-width="1"/>
<text x="30.15" y="43.72" font-size="9.55" textLength="5.35" lengthAdjust="spacingAndGlyphs">0</text>
<line x1="36.8" y1="67.17" x2="39.0" y2="67.17" stroke="#8a8a8a" stroke-width="1"/>
<rect x="17.55" y="67.6" width="5.66" height="0.86" fill="#333"/>
<text x="24.47" y="70.86" font-size="9.55" textLength="11.04" lengthAdjust="spacingAndGlyphs">50</text>
<line x1="36.8" y1="94.31" x2="39.0" y2="94.31" stroke="#8a8a8a" stroke-width="1"/>
<rect x="11.79" y="94.73" width="5.66" height="0.86" fill="#333"/>
<text x="18.66" y="97.99" font-size="9.55" textLength="16.9" lengthAdjust="spacingAndGlyphs">100</text>
<line x1="36.8" y1="121.44" x2="39.0" y2="121.44" stroke="#8a8a8a" stroke-width="1"/>
<rect x="11.79" y="121.87" width="5.66" height="0.86" fill="#333"/>
<text x="18.66" y="125.12" font-size="9.55" textLength="16.9" lengthAdjust="spacingAndGlyphs">150</text>
<line x1="40.26" y1="134.85" x2="40.26" y2="136.45" stroke="#8a8a8a" stroke-width="0.8"/>
<line x1="45.48" y1="134.85" x2="45.48" y2="136.45" stroke="#8a8a8a" stroke-width="0.8"/>
<line x1="80.89" y1="134.85" x2="80.89" y2="136.45" stroke="#8a8a8a" stroke-width="0.8"/>
<line x1="98.86" y1="134.85" x2="98.86" y2="136.45" stroke="#8a8a8a" stroke-width="0.8"/>
<line x1="111.62" y1="134.85" x2="111.62" y2="136.45" stroke="#8a8a8a" stroke-width="0.8"/>
<line x1="121.51" y1="134.85" x2="121.51" y2="136.45" stroke="#8a8a8a" stroke-width="0.8"/>
<line x1="129.6" y1="134.85" x2="129.6" y2="136.45" stroke="#8a8a8a" stroke-width="0.8"/>
<line x1="136.43" y1="134.85" x2="136.43" y2="136.45" stroke="#8a8a8a" stroke-width="0.8"/>
<line x1="142.36" y1="134.85" x2="142.36" y2="136.45" stroke="#8a8a8a" stroke-width="0.8"/>
<line x1="147.58" y1="134.85" x2="147.58" y2="136.45" stroke="#8a8a8a" stroke-width="0.8"/>
<line x1="182.99" y1="134.85" x2="182.99" y2="136.45" stroke="#8a8a8a" stroke-width="0.8"/>
<line x1="200.96" y1="134.85" x2="200.96" y2="136.45" stroke="#8a8a8a" stroke-width="0.8"/>
<line x1="213.72" y1="134.85" x2="213.72" y2="136.45" stroke="#8a8a8a" stroke-width="0.8"/>
<line x1="223.61" y1="134.85" x2="223.61" y2="136.45" stroke="#8a8a8a" stroke-width="0.8"/>
<line x1="231.7" y1="134.85" x2="231.7" y2="136.45" stroke="#8a8a8a" stroke-width="0.8"/>
<line x1="238.53" y1="134.85" x2="238.53" y2="136.45" stroke="#8a8a8a" stroke-width="0.8"/>
<line x1="244.46" y1="134.85" x2="244.46" y2="136.45" stroke="#8a8a8a" stroke-width="0.8"/>
<line x1="249.68" y1="134.85" x2="249.68" y2="136.45" stroke="#8a8a8a" stroke-width="0.8"/>
<line x1="285.09" y1="134.85" x2="285.09" y2="136.45" stroke="#8a8a8a" stroke-width="0.8"/>
<line x1="50.15" y1="134.85" x2="50.15" y2="137.04999999999998" stroke="#8a8a8a" stroke-width="1"/>
<text x="43.25" y="145.95" font-size="9.55" textLength="11.08" lengthAdjust="spacingAndGlyphs">10</text>
<text x="54.83" y="141.8" font-size="7.1" textLength="3.78" lengthAdjust="spacingAndGlyphs">4</text>
<line x1="152.25" y1="134.85" x2="152.25" y2="137.04999999999998" stroke="#8a8a8a" stroke-width="1"/>
<text x="145.35" y="145.95" font-size="9.55" textLength="11.08" lengthAdjust="spacingAndGlyphs">10</text>
<text x="156.81" y="141.8" font-size="7.1" textLength="3.98" lengthAdjust="spacingAndGlyphs">5</text>
<line x1="254.35" y1="134.85" x2="254.35" y2="137.04999999999998" stroke="#8a8a8a" stroke-width="1"/>
<text x="247.45" y="145.95" font-size="9.55" textLength="11.08" lengthAdjust="spacingAndGlyphs">10</text>
<text x="258.83" y="141.8" font-size="7.1" textLength="4.11" lengthAdjust="spacingAndGlyphs">6</text>
<rect x="346.0" y="10.2" width="255.9" height="124.65" fill="none" stroke="#ababab" stroke-width="1.5"/>
<line x1="343.8" y1="12.91" x2="346.0" y2="12.91" stroke="#8a8a8a" stroke-width="1"/>
<text x="331.47" y="16.59" font-size="9.55" textLength="11.04" lengthAdjust="spacingAndGlyphs">50</text>
<line x1="343.8" y1="40.04" x2="346.0" y2="40.04" stroke="#8a8a8a" stroke-width="1"/>
<text x="337.15" y="43.72" font-size="9.55" textLength="5.35" lengthAdjust="spacingAndGlyphs">0</text>
<line x1="343.8" y1="67.17" x2="346.0" y2="67.17" stroke="#8a8a8a" stroke-width="1"/>
<rect x="324.55" y="67.6" width="5.66" height="0.86" fill="#333"/>
<text x="331.47" y="70.86" font-size="9.55" textLength="11.04" lengthAdjust="spacingAndGlyphs">50</text>
<line x1="343.8" y1="94.31" x2="346.0" y2="94.31" stroke="#8a8a8a" stroke-width="1"/>
<rect x="318.79" y="94.73" width="5.66" height="0.86" fill="#333"/>
<text x="325.66" y="97.99" font-size="9.55" textLength="16.9" lengthAdjust="spacingAndGlyphs">100</text>
<line x1="343.8" y1="121.44" x2="346.0" y2="121.44" stroke="#8a8a8a" stroke-width="1"/>
<rect x="318.79" y="121.87" width="5.66" height="0.86" fill="#333"/>
<text x="325.66" y="125.12" font-size="9.55" textLength="16.9" lengthAdjust="spacingAndGlyphs">150</text>
<line x1="347.26" y1="134.85" x2="347.26" y2="136.45" stroke="#8a8a8a" stroke-width="0.8"/>
<line x1="352.48" y1="134.85" x2="352.48" y2="136.45" stroke="#8a8a8a" stroke-width="0.8"/>
<line x1="387.89" y1="134.85" x2="387.89" y2="136.45" stroke="#8a8a8a" stroke-width="0.8"/>
<line x1="405.86" y1="134.85" x2="405.86" y2="136.45" stroke="#8a8a8a" stroke-width="0.8"/>
<line x1="418.62" y1="134.85" x2="418.62" y2="136.45" stroke="#8a8a8a" stroke-width="0.8"/>
<line x1="428.51" y1="134.85" x2="428.51" y2="136.45" stroke="#8a8a8a" stroke-width="0.8"/>
<line x1="436.6" y1="134.85" x2="436.6" y2="136.45" stroke="#8a8a8a" stroke-width="0.8"/>
<line x1="443.43" y1="134.85" x2="443.43" y2="136.45" stroke="#8a8a8a" stroke-width="0.8"/>
<line x1="449.36" y1="134.85" x2="449.36" y2="136.45" stroke="#8a8a8a" stroke-width="0.8"/>
<line x1="454.58" y1="134.85" x2="454.58" y2="136.45" stroke="#8a8a8a" stroke-width="0.8"/>
<line x1="489.99" y1="134.85" x2="489.99" y2="136.45" stroke="#8a8a8a" stroke-width="0.8"/>
<line x1="507.96" y1="134.85" x2="507.96" y2="136.45" stroke="#8a8a8a" stroke-width="0.8"/>
<line x1="520.72" y1="134.85" x2="520.72" y2="136.45" stroke="#8a8a8a" stroke-width="0.8"/>
<line x1="530.61" y1="134.85" x2="530.61" y2="136.45" stroke="#8a8a8a" stroke-width="0.8"/>
<line x1="538.7" y1="134.85" x2="538.7" y2="136.45" stroke="#8a8a8a" stroke-width="0.8"/>
<line x1="545.53" y1="134.85" x2="545.53" y2="136.45" stroke="#8a8a8a" stroke-width="0.8"/>
<line x1="551.46" y1="134.85" x2="551.46" y2="136.45" stroke="#8a8a8a" stroke-width="0.8"/>
<line x1="556.68" y1="134.85" x2="556.68" y2="136.45" stroke="#8a8a8a" stroke-width="0.8"/>
<line x1="592.09" y1="134.85" x2="592.09" y2="136.45" stroke="#8a8a8a" stroke-width="0.8"/>
<line x1="357.15" y1="134.85" x2="357.15" y2="137.04999999999998" stroke="#8a8a8a" stroke-width="1"/>
<text x="350.25" y="145.95" font-size="9.55" textLength="11.08" lengthAdjust="spacingAndGlyphs">10</text>
<text x="361.83" y="141.8" font-size="7.1" textLength="3.78" lengthAdjust="spacingAndGlyphs">4</text>
<line x1="459.25" y1="134.85" x2="459.25" y2="137.04999999999998" stroke="#8a8a8a" stroke-width="1"/>
<text x="452.35" y="145.95" font-size="9.55" textLength="11.08" lengthAdjust="spacingAndGlyphs">10</text>
<text x="463.81" y="141.8" font-size="7.1" textLength="3.98" lengthAdjust="spacingAndGlyphs">5</text>
<line x1="561.35" y1="134.85" x2="561.35" y2="137.04999999999998" stroke="#8a8a8a" stroke-width="1"/>
<text x="554.45" y="145.95" font-size="9.55" textLength="11.08" lengthAdjust="spacingAndGlyphs">10</text>
<text x="565.83" y="141.8" font-size="7.1" textLength="4.11" lengthAdjust="spacingAndGlyphs">6</text>
<rect x="39.0" y="160.2" width="255.9" height="124.65" fill="none" stroke="#ababab" stroke-width="1.5"/>
<line x1="36.8" y1="162.91" x2="39.0" y2="162.91" stroke="#8a8a8a" stroke-width="1"/>
<text x="24.47" y="166.59" font-size="9.55" textLength="11.04" lengthAdjust="spacingAndGlyphs">50</text>
<line x1="36.8" y1="190.04" x2="39.0" y2="190.04" stroke="#8a8a8a" stroke-width="1"/>
<text x="30.15" y="193.72" font-size="9.55" textLength="5.35" lengthAdjust="spacingAndGlyphs">0</text>
<line x1="36.8" y1="217.17" x2="39.0" y2="217.17" stroke="#8a8a8a" stroke-width="1"/>
<rect x="17.55" y="217.6" width="5.66" height="0.86" fill="#333"/>
<text x="24.47" y="220.85" font-size="9.55" textLength="11.04" lengthAdjust="spacingAndGlyphs">50</text>
<line x1="36.8" y1="244.31" x2="39.0" y2="244.31" stroke="#8a8a8a" stroke-width="1"/>
<rect x="11.79" y="244.73" width="5.66" height="0.86" fill="#333"/>
<text x="18.66" y="247.99" font-size="9.55" textLength="16.9" lengthAdjust="spacingAndGlyphs">100</text>
<line x1="36.8" y1="271.44" x2="39.0" y2="271.44" stroke="#8a8a8a" stroke-width="1"/>
<rect x="11.79" y="271.87" width="5.66" height="0.86" fill="#333"/>
<text x="18.66" y="275.12" font-size="9.55" textLength="16.9" lengthAdjust="spacingAndGlyphs">150</text>
<line x1="40.26" y1="284.85" x2="40.26" y2="286.45" stroke="#8a8a8a" stroke-width="0.8"/>
<line x1="45.48" y1="284.85" x2="45.48" y2="286.45" stroke="#8a8a8a" stroke-width="0.8"/>
<line x1="80.89" y1="284.85" x2="80.89" y2="286.45" stroke="#8a8a8a" stroke-width="0.8"/>
<line x1="98.86" y1="284.85" x2="98.86" y2="286.45" stroke="#8a8a8a" stroke-width="0.8"/>
<line x1="111.62" y1="284.85" x2="111.62" y2="286.45" stroke="#8a8a8a" stroke-width="0.8"/>
<line x1="121.51" y1="284.85" x2="121.51" y2="286.45" stroke="#8a8a8a" stroke-width="0.8"/>
<line x1="129.6" y1="284.85" x2="129.6" y2="286.45" stroke="#8a8a8a" stroke-width="0.8"/>
<line x1="136.43" y1="284.85" x2="136.43" y2="286.45" stroke="#8a8a8a" stroke-width="0.8"/>
<line x1="142.36" y1="284.85" x2="142.36" y2="286.45" stroke="#8a8a8a" stroke-width="0.8"/>
<line x1="147.58" y1="284.85" x2="147.58" y2="286.45" stroke="#8a8a8a" stroke-width="0.8"/>
<line x1="182.99" y1="284.85" x2="182.99" y2="286.45" stroke="#8a8a8a" stroke-width="0.8"/>
<line x1="200.96" y1="284.85" x2="200.96" y2="286.45" stroke="#8a8a8a" stroke-width="0.8"/>
<line x1="213.72" y1="284.85" x2="213.72" y2="286.45" stroke="#8a8a8a" stroke-width="0.8"/>
<line x1="223.61" y1="284.85" x2="223.61" y2="286.45" stroke="#8a8a8a" stroke-width="0.8"/>
<line x1="231.7" y1="284.85" x2="231.7" y2="286.45" stroke="#8a8a8a" stroke-width="0.8"/>
<line x1="238.53" y1="284.85" x2="238.53" y2="286.45" stroke="#8a8a8a" stroke-width="0.8"/>
<line x1="244.46" y1="284.85" x2="244.46" y2="286.45" stroke="#8a8a8a" stroke-width="0.8"/>
<line x1="249.68" y1="284.85" x2="249.68" y2="286.45" stroke="#8a8a8a" stroke-width="0.8"/>
<line x1="285.09" y1="284.85" x2="285.09" y2="286.45" stroke="#8a8a8a" stroke-width="0.8"/>
<line x1="50.15" y1="284.85" x2="50.15" y2="287.05" stroke="#8a8a8a" stroke-width="1"/>
<text x="43.25" y="295.95" font-size="9.55" textLength="11.08" lengthAdjust="spacingAndGlyphs">10</text>
<text x="54.83" y="291.8" font-size="7.1" textLength="3.78" lengthAdjust="spacingAndGlyphs">4</text>
<line x1="152.25" y1="284.85" x2="152.25" y2="287.05" stroke="#8a8a8a" stroke-width="1"/>
<text x="145.35" y="295.95" font-size="9.55" textLength="11.08" lengthAdjust="spacingAndGlyphs">10</text>
<text x="156.81" y="291.8" font-size="7.1" textLength="3.98" lengthAdjust="spacingAndGlyphs">5</text>
<line x1="254.35" y1="284.85" x2="254.35" y2="287.05" stroke="#8a8a8a" stroke-width="1"/>
<text x="247.45" y="295.95" font-size="9.55" textLength="11.08" lengthAdjust="spacingAndGlyphs">10</text>
<text x="258.83" y="291.8" font-size="7.1" textLength="4.11" lengthAdjust="spacingAndGlyphs">6</text>
<rect x="346.0" y="160.2" width="255.9" height="124.65" fill="none" stroke="#ababab" stroke-width="1.5"/>
<line x1="343.8" y1="163.5" x2="346.0" y2="163.5" stroke="#8a8a8a" stroke-width="1"/>
<text x="337.15" y="167.18" font-size="9.55" textLength="5.35" lengthAdjust="spacingAndGlyphs">0</text>
<line x1="343.8" y1="198.2" x2="346.0" y2="198.2" stroke="#8a8a8a" stroke-width="1"/>
<rect x="324.55" y="198.62" width="5.66" height="0.86" fill="#333"/>
<text x="331.47" y="201.88" font-size="9.55" textLength="11.04" lengthAdjust="spacingAndGlyphs">50</text>
<line x1="343.8" y1="232.9" x2="346.0" y2="232.9" stroke="#8a8a8a" stroke-width="1"/>
<rect x="318.79" y="233.32" width="5.66" height="0.86" fill="#333"/>
<text x="325.66" y="236.58" font-size="9.55" textLength="16.9" lengthAdjust="spacingAndGlyphs">100</text>
<line x1="343.8" y1="267.6" x2="346.0" y2="267.6" stroke="#8a8a8a" stroke-width="1"/>
<rect x="318.79" y="268.02" width="5.66" height="0.86" fill="#333"/>
<text x="325.66" y="271.28" font-size="9.55" textLength="16.9" lengthAdjust="spacingAndGlyphs">150</text>
<line x1="347.26" y1="284.85" x2="347.26" y2="286.45" stroke="#8a8a8a" stroke-width="0.8"/>
<line x1="352.48" y1="284.85" x2="352.48" y2="286.45" stroke="#8a8a8a" stroke-width="0.8"/>
<line x1="387.89" y1="284.85" x2="387.89" y2="286.45" stroke="#8a8a8a" stroke-width="0.8"/>
<line x1="405.86" y1="284.85" x2="405.86" y2="286.45" stroke="#8a8a8a" stroke-width="0.8"/>
<line x1="418.62" y1="284.85" x2="418.62" y2="286.45" stroke="#8a8a8a" stroke-width="0.8"/>
<line x1="428.51" y1="284.85" x2="428.51" y2="286.45" stroke="#8a8a8a" stroke-width="0.8"/>
<line x1="436.6" y1="284.85" x2="436.6" y2="286.45" stroke="#8a8a8a" stroke-width="0.8"/>
<line x1="443.43" y1="284.85" x2="443.43" y2="286.45" stroke="#8a8a8a" stroke-width="0.8"/>
<line x1="449.36" y1="284.85" x2="449.36" y2="286.45" stroke="#8a8a8a" stroke-width="0.8"/>
<line x1="454.58" y1="284.85" x2="454.58" y2="286.45" stroke="#8a8a8a" stroke-width="0.8"/>
<line x1="489.99" y1="284.85" x2="489.99" y2="286.45" stroke="#8a8a8a" stroke-width="0.8"/>
<line x1="507.96" y1="284.85" x2="507.96" y2="286.45" stroke="#8a8a8a" stroke-width="0.8"/>
<line x1="520.72" y1="284.85" x2="520.72" y2="286.45" stroke="#8a8a8a" stroke-width="0.8"/>
<line x1="530.61" y1="284.85" x2="530.61" y2="286.45" stroke="#8a8a8a" stroke-width="0.8"/>
<line x1="538.7" y1="284.85" x2="538.7" y2="286.45" stroke="#8a8a8a" stroke-width="0.8"/>
<line x1="545.53" y1="284.85" x2="545.53" y2="286.45" stroke="#8a8a8a" stroke-width="0.8"/>
<line x1="551.46" y1="284.85" x2="551.46" y2="286.45" stroke="#8a8a8a" stroke-width="0.8"/>
<line x1="556.68" y1="284.85" x2="556.68" y2="286.45" stroke="#8a8a8a" stroke-width="0.8"/>
<line x1="592.09" y1="284.85" x2="592.09" y2="286.45" stroke="#8a8a8a" stroke-width="0.8"/>
<line x1="357.15" y1="284.85" x2="357.15" y2="287.05" stroke="#8a8a8a" stroke-width="1"/>
<text x="350.25" y="295.95" font-size="9.55" textLength="11.08" lengthAdjust="spacingAndGlyphs">10</text>
<text x="361.83" y="291.8" font-size="7.1" textLength="3.78" lengthAdjust="spacingAndGlyphs">4</text>
<line x1="459.25" y1="284.85" x2="459.25" y2="287.05" stroke="#8a8a8a" stroke-width="1"/>
<text x="452.35" y="295.95" font-size="9.55" textLength="11.08" lengthAdjust="spacingAndGlyphs">10</text>
<text x="463.81" y="291.8" font-size="7.1" textLength="3.98" lengthAdjust="spacingAndGlyphs">5</text>
<line x1="561.35" y1="284.85" x2="561.35" y2="287.05" stroke="#8a8a8a" stroke-width="1"/>
<text x="554.45" y="295.95" font-size="9.55" textLength="11.08" lengthAdjust="spacingAndGlyphs">10</text>
<text x="565.83" y="291.8" font-size="7.1" textLength="4.11" lengthAdjust="spacingAndGlyphs">6</text>
<rect x="217.4" y="87.3" width="73" height="43.1" rx="2.4" fill="#fff" fill-opacity="0.9" stroke="#dedede" stroke-width="0.9"/>
<path d="M221 95.2 H239.1" fill="none" stroke="#a2a2a2" stroke-width="1.1" stroke-dasharray="0.95 1.05"/>
<text x="246.55" y="98.05" font-size="9.55" textLength="14.61" lengthAdjust="spacingAndGlyphs">diff</text>
<path d="M221 108.4 H239.1" fill="none" stroke="#454545" stroke-width="1.1" />
<text x="246.66" y="111.25" font-size="9.55" textLength="39.81" lengthAdjust="spacingAndGlyphs">pdcr-710</text>
<path d="M221 121.85 H239.1" fill="none" stroke="#7e7e7e" stroke-width="1.1" stroke-dasharray="4.9 1.15 0.8 1.15"/>
<text x="246.64" y="124.7" font-size="9.55" textLength="32.4" lengthAdjust="spacingAndGlyphs">regular</text>
<rect x="524.4" y="87.3" width="73" height="43.1" rx="2.4" fill="#fff" fill-opacity="0.9" stroke="#dedede" stroke-width="0.9"/>
<path d="M528 95.2 H546.1" fill="none" stroke="#969696" stroke-width="1.1" stroke-dasharray="0.95 1.05"/>
<text x="553.55" y="98.05" font-size="9.55" textLength="14.61" lengthAdjust="spacingAndGlyphs">diff</text>
<path d="M528 108.4 H546.1" fill="none" stroke="#777" stroke-width="1.1" stroke-dasharray="4.9 1.15 0.8 1.15"/>
<text x="553.61" y="111.25" font-size="9.55" textLength="12.59" lengthAdjust="spacingAndGlyphs">rat</text>
<path d="M528 121.85 H546.1" fill="none" stroke="#454545" stroke-width="1.1" />
<text x="553.66" y="124.7" font-size="9.55" textLength="39.81" lengthAdjust="spacingAndGlyphs">pdcr-710</text>
<rect x="225.4" y="237.3" width="65" height="43.1" rx="2.4" fill="#fff" fill-opacity="0.9" stroke="#dedede" stroke-width="0.9"/>
<path d="M228.8 245.2 H246.9" fill="none" stroke="#a5a5a5" stroke-width="1.1" stroke-dasharray="0.95 1.05"/>
<text x="254.15" y="248.05" font-size="9.55" textLength="14.61" lengthAdjust="spacingAndGlyphs">diff</text>
<path d="M228.8 258.4 H246.9" fill="none" stroke="#777" stroke-width="1.1" stroke-dasharray="4.9 1.15 0.8 1.15"/>
<text x="254.21" y="261.25" font-size="9.55" textLength="12.59" lengthAdjust="spacingAndGlyphs">rat</text>
<path d="M228.8 271.85 H246.9" fill="none" stroke="#454545" stroke-width="1.1" />
<text x="254.24" y="274.7" font-size="9.55" textLength="32.4" lengthAdjust="spacingAndGlyphs">regular</text>
<rect x="524.3" y="210.4" width="74.1" height="69.3" rx="2.4" fill="#fff" fill-opacity="0.9" stroke="#dedede" stroke-width="0.9"/>
<path d="M528.2 218.8 H546.3" fill="none" stroke="#333" stroke-width="1.1" stroke-dasharray="4.9 1.15 0.8 1.15"/>
<text x="553.26" y="221.65" font-size="9.55" textLength="39.63" lengthAdjust="spacingAndGlyphs">pdcr-685</text>
<path d="M528.2 231.9 H546.3" fill="none" stroke="#c4c4c4" stroke-width="1.1" />
<text x="553.26" y="234.75" font-size="9.55" textLength="39.81" lengthAdjust="spacingAndGlyphs">pdcr-710</text>
<path d="M528.2 245 H546.3" fill="none" stroke="#6a6a6a" stroke-width="1.4" />
<text x="553.26" y="247.85" font-size="9.55" textLength="39.81" lengthAdjust="spacingAndGlyphs">pdcr-750</text>
<path d="M528.2 258.2 H546.3" fill="none" stroke="#b5b5b5" stroke-width="1.1" stroke-dasharray="4.9 1.15 0.8 1.15"/>
<text x="553.26" y="261.05" font-size="9.55" textLength="39.81" lengthAdjust="spacingAndGlyphs">pdcr-800</text>
<path d="M528.2 271.6 H546.3" fill="none" stroke="#3a3a3a" stroke-width="1.15" stroke-dasharray="0.95 1.05"/>
<text x="553.24" y="274.45" font-size="9.55" textLength="32.4" lengthAdjust="spacingAndGlyphs">regular</text>
<text x="3.75" y="7.3" font-size="9.7" textLength="5.8" lengthAdjust="spacingAndGlyphs" font-weight="bold" fill="#111" style="stroke:#111;stroke-width:0.35px">a</text>
<text x="318.64" y="7.3" font-size="9.7" textLength="7.18" lengthAdjust="spacingAndGlyphs" font-weight="bold" fill="#111" style="stroke:#111;stroke-width:0.35px">b</text>
<text x="4.5" y="157.4" font-size="9.7" textLength="5.59" lengthAdjust="spacingAndGlyphs" font-weight="bold" fill="#111" style="stroke:#111;stroke-width:0.35px">c</text>
<text x="318.33" y="157.4" font-size="9.7" textLength="7.18" lengthAdjust="spacingAndGlyphs" font-weight="bold" fill="#111" style="stroke:#111;stroke-width:0.35px">d</text>
<text x="41.48" y="7.5" font-size="10.65" textLength="113.66" lengthAdjust="spacingAndGlyphs" font-style="italic" style="stroke-width:0.22px">pDCR vs regular setup</text>
<text x="349.88" y="7.5" font-size="10.65" textLength="81.08" lengthAdjust="spacingAndGlyphs" font-style="italic" style="stroke-width:0.22px">pDCR vs rat coil</text>
<text x="41.13" y="157.5" font-size="10.65" textLength="120.52" lengthAdjust="spacingAndGlyphs" font-style="italic" style="stroke-width:0.22px">regular setup vs rat coil</text>
<text x="349.52" y="157.5" font-size="10.65" textLength="88.77" lengthAdjust="spacingAndGlyphs" font-style="italic" style="stroke-width:0.22px">all pDCR versions</text>
<text x="134.15" y="306.3" font-size="9.55" textLength="65.8" lengthAdjust="spacingAndGlyphs">frequency / Hz</text>
<text x="441.15" y="306.3" font-size="9.55" textLength="65.8" lengthAdjust="spacingAndGlyphs">frequency / Hz</text>
<g transform="translate(7.4 72.5) rotate(-90)">
<text x="-30.21" y="0" font-size="9.55" textLength="60.41" lengthAdjust="spacingAndGlyphs">damping / dB</text>
</g>
<g transform="translate(7.4 222.5) rotate(-90)">
<text x="-30.21" y="0" font-size="9.55" textLength="60.41" lengthAdjust="spacingAndGlyphs">damping / dB</text>
</g>
</svg>
</body></html>
